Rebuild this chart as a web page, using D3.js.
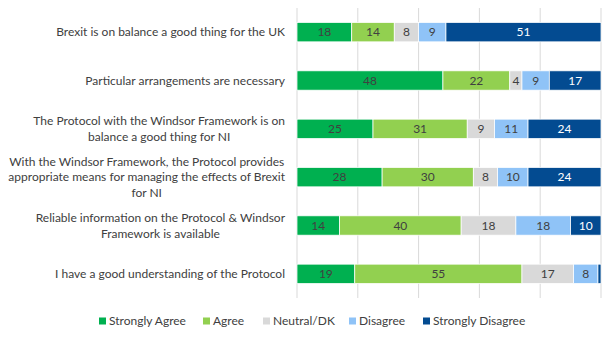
<!DOCTYPE html>
<html lang="en">
<head>
<meta charset="UTF-8" />
<title>Windsor Framework attitudes</title>
<script src="https://d3js.org/d3.v7.min.js"></script>
<style>
  body { margin: 0; background: #fff; }
  text { font-family: Lato, "Open Sans", sans-serif; }
</style>
</head>
<body>
<div id="chart"></div>
<script>
const width = 612, height = 344;

// statements, pre-wrapped as in the original
const statements = [
    ["Brexit is on balance a good thing for the UK"],
    ["Particular arrangements are necessary"],
    ["The Protocol with the Windsor Framework is on", "balance a good thing for NI"],
    ["With the Windsor Framework, the Protocol provides", "appropriate means for managing the effects of Brexit", "for NI"],
    ["Reliable information on the Protocol & Windsor", "Framework is available"],
    ["I have a good understanding of the Protocol"]
];
const responses = ["Strongly Agree", "Agree", "Neutral/DK", "Disagree", "Strongly Disagree"];
const stronglyAgree    = [18, 48, 25, 28, 14, 19];
const agree            = [14, 22, 31, 30, 40, 55];
const neutral          = [8, 4, 9, 8, 18, 17];
const disagree         = [9, 9, 11, 10, 18, 8];
const stronglyDisagree = [51, 17, 24, 24, 10, 1];
const ticks = [0, 20, 40, 60, 80, 100];

const colors = ["#00b050", "#92d050", "#d9d9d9", "#8fc3f7", "#034b91"];
const labelColors = ["#404040", "#404040", "#404040", "#404040", "#ffffff"];

const rows = statements.map((s, i) => ({
    id: i,
    lines: s,
    "Strongly Agree": stronglyAgree[i],
    "Agree": agree[i],
    "Neutral/DK": neutral[i],
    "Disagree": disagree[i],
    "Strongly Disagree": stronglyDisagree[i]
}));

const stacked = d3.stack().keys(responses)(rows);

const margin = { top: 8, right: 11, bottom: 46, left: 297 };

const x = d3.scaleLinear().domain([0, 100]).range([margin.left, width - margin.right]);
const y = d3.scaleBand().domain(rows.map(d => d.id))
    .range([margin.top, height - margin.bottom]).paddingInner(0.6).paddingOuter(0.3);

const svg = d3.select("#chart").append("svg")
    .attr("width", width).attr("height", height);

svg.append("rect").attr("width", width).attr("height", height).attr("fill", "#fff");

// gridlines
svg.append("g")
    .selectAll("line")
    .data(ticks)
    .join("line")
    .attr("x1", d => x(d)).attr("x2", d => x(d))
    .attr("y1", margin.top).attr("y2", height - margin.bottom)
    .attr("stroke", "#d9d9d9").attr("stroke-width", 1);

// bars
const layer = svg.append("g")
    .selectAll("g")
    .data(stacked)
    .join("g")
    .attr("fill", (d, i) => colors[i]);

layer.selectAll("rect")
    .data(d => d)
    .join("rect")
    .attr("x", d => x(d[0]))
    .attr("y", d => y(d.data.id))
    .attr("width", d => x(d[1]) - x(d[0]))
    .attr("height", y.bandwidth())
    .attr("stroke", "#fff").attr("stroke-width", 0.75);

// value labels
layer.each(function (series, i) {
    d3.select(this).selectAll("text")
        .data(series.filter(d => d[1] - d[0] >= 3))
        .join("text")
        .attr("x", d => (x(d[0]) + x(d[1])) / 2)
        .attr("y", d => y(d.data.id) + y.bandwidth() / 2)
        .attr("dy", "0.36em")
        .attr("text-anchor", "middle")
        .attr("font-size", 12)
        .attr("fill", labelColors[i])
        .text(d => d[1] - d[0]);
});

// category labels: block right-aligned, lines centred within it
const lineH = 15.5;
const labelRight = 285;
const cat = svg.append("g")
    .selectAll("g")
    .data(rows)
    .join("g");

cat.each(function (d) {
    const g = d3.select(this);
    const cy = y(d.id) + y.bandwidth() / 2;
    const texts = g.selectAll("text")
        .data(d.lines)
        .join("text")
        .attr("font-size", 12)
        .attr("fill", "#404040")
        .attr("text-anchor", "middle")
        .attr("dy", "0.36em")
        .attr("y", (l, j) => cy + (j - (d.lines.length - 1) / 2) * lineH)
        .text(l => l);
    let maxW = 0;
    texts.each(function () { maxW = Math.max(maxW, this.getComputedTextLength()); });
    texts.attr("x", labelRight - maxW / 2);
});

// legend
const legendX = [99, 203, 263, 349, 423];
const legend = svg.append("g")
    .selectAll("g")
    .data(responses)
    .join("g")
    .attr("transform", (d, i) => `translate(${legendX[i]},321)`);

legend.append("rect")
    .attr("x", 0).attr("y", -3.5)
    .attr("width", 7).attr("height", 7)
    .attr("fill", (d, i) => colors[i]);

legend.append("text")
    .attr("x", 10).attr("dy", "0.36em")
    .attr("font-size", 12)
    .attr("fill", "#404040")
    .text(d => d);
</script>
</body>
</html>
